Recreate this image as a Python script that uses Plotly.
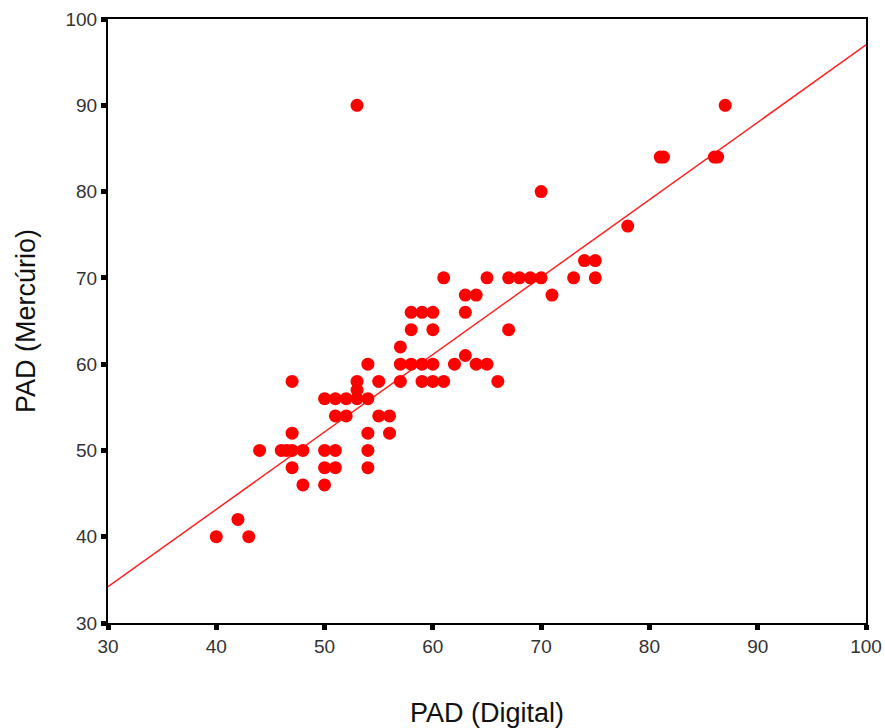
import plotly.graph_objects as go

# PAD (Digital) vs PAD (Mercúrio) readings
pad_digital = [40, 42, 43,
               44, 46, 46.5, 47, 48,
               47, 47, 47,
               48,
               50, 50, 50, 50,
               51, 51, 51, 51,
               52, 52,
               53, 53, 53, 53,
               54, 54, 54, 54, 54,
               55, 55,
               56, 56,
               57, 57, 57,
               58, 58, 58,
               59, 59, 59,
               60, 60, 60, 60,
               61, 61,
               62,
               63, 63, 63,
               64, 64,
               65, 65,
               66,
               67, 67,
               68, 69, 70, 70,
               71,
               73, 74, 75, 75,
               78,
               81, 81.3, 86, 86.3, 87]
pad_mercurio = [40, 42, 40,
                50, 50, 50, 50, 50,
                58, 52, 48,
                46,
                56, 50, 48, 46,
                56, 54, 50, 48,
                56, 54,
                58, 57, 56, 90,
                60, 56, 52, 50, 48,
                58, 54,
                54, 52,
                62, 60, 58,
                66, 64, 60,
                66, 60, 58,
                66, 64, 60, 58,
                70, 58,
                60,
                68, 66, 61,
                68, 60,
                70, 60,
                58,
                70, 64,
                70, 70, 70, 80,
                68,
                70, 72, 72, 70,
                76,
                84, 84, 84, 84, 90]

# Regression line (at the axis ends)
fit_x = [30, 100]
fit_y = [34.2, 97.0]

x_ticks = [30, 40, 50, 60, 70, 80, 90, 100]
y_ticks = [30, 40, 50, 60, 70, 80, 90, 100]

FONT = "Liberation Sans, Arial, sans-serif"

fig = go.Figure()
fig.add_trace(go.Scatter(x=fit_x, y=fit_y, mode="lines",
                         line=dict(color="#ff2020", width=1.5),
                         showlegend=False, hoverinfo="skip"))
fig.add_trace(go.Scatter(x=pad_digital, y=pad_mercurio, mode="markers",
                         marker=dict(color="#ff0000", size=13, line=dict(width=0)),
                         showlegend=False))

axis_common = dict(
    showgrid=False, zeroline=False,
    showline=True, linecolor="black", linewidth=2, mirror=True,
    ticks="outside", ticklen=5, tickwidth=5, tickcolor="black",
    tickfont=dict(family=FONT, size=19, color="#333333"),
    automargin=False,
)

fig.update_xaxes(range=[30, 100], tickvals=x_ticks, ticktext=[str(v) for v in x_ticks],
                 title=dict(text="PAD (Digital)", standoff=47,
                            font=dict(family=FONT, size=27, color="#111111")),
                 **axis_common)
fig.update_yaxes(range=[30, 100], tickvals=y_ticks, ticktext=[str(v) for v in y_ticks],
                 title=dict(text="PAD (Mercúrio)", standoff=22,
                            font=dict(family=FONT, size=27, color="#111111")),
                 **axis_common)

fig.update_layout(
    width=885, height=728,
    margin=dict(l=108, r=19, t=19, b=105),
    paper_bgcolor="white", plot_bgcolor="white",
)

fig.write_html("out.html",
               config={"displayModeBar": False},
               post_script="document.body.style.margin='0';document.body.style.overflow='hidden';")
